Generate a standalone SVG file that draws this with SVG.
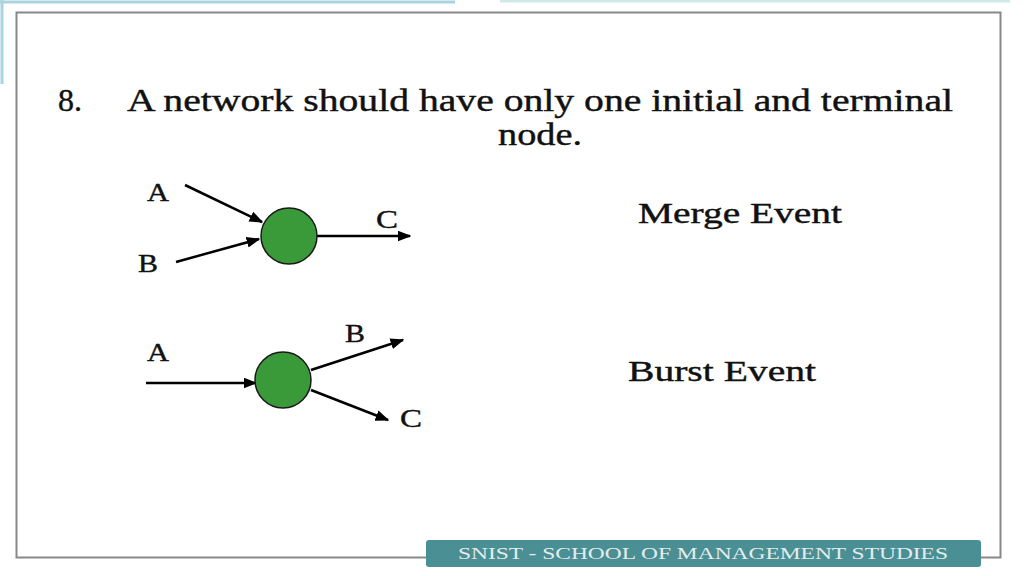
<svg xmlns="http://www.w3.org/2000/svg" width="1024" height="576" viewBox="0 0 1024 576">
<style>
.t{font-family:"Liberation Serif","Times New Roman",serif;fill:#111;stroke:#111;stroke-width:0.4}
.h{font-size:31px}
.l{font-size:25px}
.e{font-size:29px}
.n{fill:#3a9a3a;stroke:#1a1a1a;stroke-width:1.5}
.c{stroke:#000;stroke-width:2.5;fill:none;marker-end:url(#ah)}
</style>
<defs>
<marker id="ah" viewBox="0 0 10 10" refX="9" refY="5" markerWidth="5.5" markerHeight="5.5" orient="auto" markerUnits="strokeWidth">
<path d="M0,1 L10,5 L0,9 z" fill="#000"/>
</marker>
</defs>
<rect width="1024" height="576" fill="#fff"/>
<line x1="0" y1="2" x2="455" y2="2" stroke="#a9d3df" stroke-width="3"/>
<line x1="500" y1="1" x2="1010" y2="1" stroke="#cfeae6" stroke-width="3"/>
<line x1="2" y1="0" x2="2" y2="84" stroke="#a9d3df" stroke-width="3"/>
<rect x="16.5" y="12.5" width="984" height="545" fill="none" stroke="#888" stroke-width="2"/>
<text class="t h" x="58" y="111" textLength="24" lengthAdjust="spacingAndGlyphs">8.</text>
<text class="t h" x="127" y="111" textLength="826" lengthAdjust="spacingAndGlyphs">A network should have only one initial and terminal</text>
<text class="t h" x="498" y="145" textLength="84" lengthAdjust="spacingAndGlyphs">node.</text>
<g id="connectors">
<line class="c" x1="185" y1="185" x2="262" y2="222"/>
<line class="c" x1="176" y1="262" x2="259" y2="239"/>
<line class="c" x1="317" y1="236" x2="410" y2="236"/>
<line class="c" x1="146" y1="383" x2="256" y2="383"/>
<line class="c" x1="311" y1="370" x2="403" y2="340"/>
<line class="c" x1="311" y1="390" x2="388" y2="420"/>
</g>
<g id="merge-node"><circle class="n" cx="289" cy="236" r="28"/></g>
<g id="burst-node"><circle class="n" cx="283" cy="380" r="28"/></g>
<g id="labels">
<text class="t l" x="147" y="201" textLength="22" lengthAdjust="spacingAndGlyphs">A</text>
<text class="t l" x="138" y="272" textLength="20" lengthAdjust="spacingAndGlyphs">B</text>
<text class="t l" x="376" y="228" textLength="22" lengthAdjust="spacingAndGlyphs">C</text>
<text class="t l" x="147" y="361" textLength="22" lengthAdjust="spacingAndGlyphs">A</text>
<text class="t l" x="345" y="342" textLength="20" lengthAdjust="spacingAndGlyphs">B</text>
<text class="t l" x="400" y="427" textLength="22" lengthAdjust="spacingAndGlyphs">C</text>
</g>
<text class="t e" x="638" y="223" textLength="204" lengthAdjust="spacingAndGlyphs">Merge Event</text>
<text class="t e" x="628" y="381" textLength="188" lengthAdjust="spacingAndGlyphs">Burst Event</text>
<g id="footer">
<rect x="426" y="540" width="555" height="27" rx="3" fill="#4a8f94"/>
<text x="458" y="559" font-family="Liberation Serif, serif" font-size="17" fill="#e4ecec" textLength="490" lengthAdjust="spacingAndGlyphs">SNIST - SCHOOL OF MANAGEMENT STUDIES</text>
</g>
</svg>
